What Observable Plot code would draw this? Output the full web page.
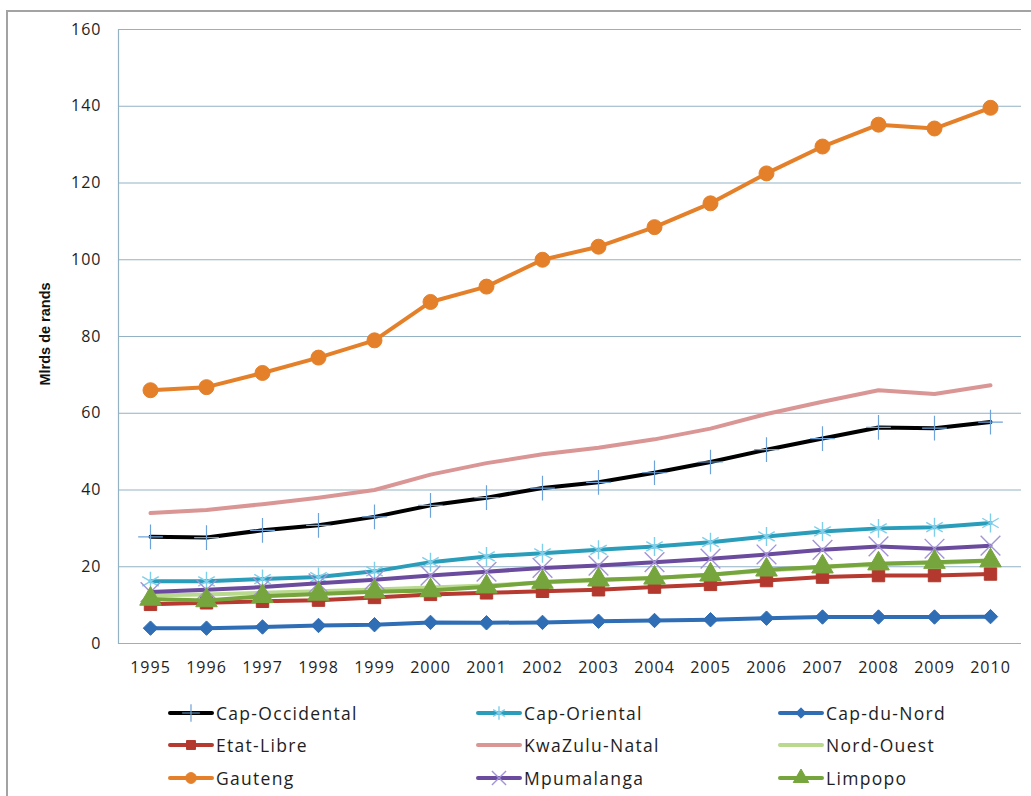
<!DOCTYPE html>
<html>
<head>
<meta charset="utf-8">
<script src="https://cdn.jsdelivr.net/npm/d3@7"></script>
<script src="https://cdn.jsdelivr.net/npm/@observablehq/plot@0.6"></script>
<style>
  html, body { margin: 0; padding: 0; background: #fff; }
  #wrap { position: relative; width: 1031px; height: 796px; overflow: hidden; }
  #frame { position: absolute; left: 6px; top: 10px; width: 1040px; height: 800px;
           border-left: 2px solid #a3a3a3; border-top: 2px solid #a3a3a3; box-sizing: border-box; }
  #chart { position: absolute; left: 0; top: 0; }
  #ytitle { position: absolute; left: 45px; top: 334px; transform: translate(-50%, -50%) rotate(-90deg);
            font-family: "Liberation Sans Narrow", "Liberation Sans", sans-serif; font-weight: bold;
            font-size: 14.5px; color: #111; white-space: nowrap; }
  .leg { position: absolute; display: flex; align-items: center; font-family: "Open Sans", sans-serif;
         font-size: 17.5px; letter-spacing: 1.3px; color: #1e1e1e; white-space: nowrap; }
  .leg svg { margin-right: 2px; }
</style>
</head>
<body>
<div id="wrap">
  <div id="frame"></div>
  <div id="chart"></div>
  <div id="ytitle">Mlrds de rands</div>
  <div id="legend"></div>
</div>
<script>
const years = ["1995","1996","1997","1998","1999","2000","2001","2002","2003","2004","2005","2006","2007","2008","2009","2010"];
const seriesNames = ["Cap-Occidental","Cap-Oriental","Cap-du-Nord","Etat-Libre","KwaZulu-Natal","Nord-Ouest","Gauteng","Mpumalanga","Limpopo"];
const capOccidental = [27.8, 27.6, 29.5, 30.8, 33.0, 36.0, 38.0, 40.5, 42.0, 44.5, 47.3, 50.5, 53.4, 56.3, 56.1, 57.7];
const capOriental   = [16.2, 16.2, 16.8, 17.3, 18.8, 21.2, 22.7, 23.5, 24.4, 25.3, 26.4, 27.9, 29.2, 30.0, 30.3, 31.4];
const capDuNord     = [4.0, 4.0, 4.3, 4.7, 4.9, 5.5, 5.4, 5.5, 5.8, 6.0, 6.2, 6.6, 6.9, 6.9, 6.9, 7.0];
const etatLibre     = [10.2, 10.6, 11.0, 11.3, 12.0, 12.8, 13.2, 13.6, 14.0, 14.7, 15.4, 16.4, 17.3, 17.7, 17.7, 18.1];
const kwaZuluNatal  = [34.0, 34.8, 36.3, 38.0, 40.0, 44.0, 47.0, 49.3, 51.0, 53.2, 56.0, 59.8, 63.0, 66.0, 65.0, 67.3];
const nordOuest     = [12.6, 12.8, 13.2, 13.6, 14.1, 14.6, 15.1, 15.9, 16.5, 17.1, 17.9, 19.0, 19.9, 20.7, 21.0, 21.5];
const gauteng       = [66.0, 66.8, 70.5, 74.5, 79.0, 89.0, 93.0, 100.0, 103.4, 108.5, 114.7, 122.5, 129.5, 135.2, 134.2, 139.6];
const mpumalanga    = [13.4, 14.0, 14.7, 15.7, 16.6, 17.7, 18.7, 19.7, 20.3, 21.2, 22.1, 23.2, 24.4, 25.3, 24.7, 25.5];
const limpopo       = [11.6, 11.2, 12.3, 12.9, 13.5, 13.8, 14.8, 16.0, 16.6, 17.1, 17.9, 19.2, 20.0, 20.8, 21.2, 21.6];
const yTicks = [0, 20, 40, 60, 80, 100, 120, 140, 160];

const seriesValues = [capOccidental, capOriental, capDuNord, etatLibre, kwaZuluNatal, nordOuest, gauteng, mpumalanga, limpopo];

// styles (kept separate from data)
const styles = {
  "Cap-Occidental": {line: "#000000", symbol: "plus", mark: "#6fa3d8", filled: false, r: 8, sw: 1.2},
  "Cap-Oriental":   {line: "#2a9dbb", symbol: "asterisk", mark: "#7fcfea", filled: false, r: 9, sw: 1.4},
  "Cap-du-Nord":    {line: "#2f6db5", symbol: "diamond2", mark: "#2f6db5", filled: true, r: 6.5, sw: 1},
  "Etat-Libre":     {line: "#b63a2f", symbol: "square", mark: "#b3382d", filled: true, r: 7, sw: 1},
  "KwaZulu-Natal":  {line: "#d99695", symbol: null},
  "Nord-Ouest":     {line: "#b8d98e", symbol: null},
  "Gauteng":        {line: "#e5802a", symbol: "circle", mark: "#e5802a", filled: true, r: 7.5, sw: 1},
  "Mpumalanga":     {line: "#6a4b9d", symbol: "times", mark: "#a294d6", filled: false, r: 9, sw: 1.4},
  "Limpopo":        {line: "#77a53d", symbol: "triangle", mark: "#77a53d", filled: true, r: 8, sw: 1}
};

const rows = seriesNames.flatMap((name, i) => years.map((yr, j) => ({series: name, year: yr, value: seriesValues[i][j]})));

const marks = [
  Plot.gridY(yTicks, {stroke: "#93b3c4", strokeOpacity: 1, strokeWidth: 1}),
  Plot.frame({anchor: "left", stroke: "#93b3c4", strokeWidth: 1.2}),
  Plot.axisY(yTicks, {tickSize: 0, tickPadding: 17, fontSize: 16, label: null}),
  Plot.axisX({tickSize: 0, tickPadding: 18, fontSize: 16, label: null})
];
for (const name of seriesNames) {
  const st = styles[name];
  const d = rows.filter(r => r.series === name);
  marks.push(Plot.line(d, {x: "year", y: "value", stroke: st.line, strokeWidth: 4, strokeLinejoin: "round", strokeLinecap: "round"}));
  if (st.symbol) {
    marks.push(Plot.dot(d, {x: "year", y: "value", symbol: () => st.symbol, r: st.r,
      fill: st.filled ? st.mark : "none", stroke: st.mark, strokeWidth: st.sw}));
  }
}

const chart = Plot.plot({
  width: 1031, height: 690,
  marginLeft: 118, marginRight: 10, marginTop: 29, marginBottom: 47,
  style: {fontFamily: "Open Sans, sans-serif", fontSize: "16px", color: "#1e1e1e", background: "transparent", letterSpacing: "1px"},
  x: {type: "point", domain: years, padding: 0.5},
  y: {domain: [0, 160]},
  symbol: {type: "identity"},
  marks
});
document.getElementById("chart").appendChild(chart);

// legend
const legend = document.getElementById("legend");
const colsX = [168, 476, 778];
const rowsY = [713, 745, 778];
const symMap = {plus: d3.symbolPlus, asterisk: d3.symbolAsterisk, diamond2: d3.symbolDiamond2, square: d3.symbolSquare,
                circle: d3.symbolCircle, times: d3.symbolTimes, triangle: d3.symbolTriangle};
seriesNames.forEach((name, i) => {
  const st = styles[name];
  const div = document.createElement("div");
  div.className = "leg";
  div.style.left = colsX[i % 3] + "px";
  div.style.top = (rowsY[Math.floor(i / 3)] - 13) + "px";
  div.style.height = "26px";
  let svg = `<svg width="46" height="26"><line x1="2" x2="44" y1="13" y2="13" stroke="${st.line}" stroke-width="4" stroke-linecap="round"/>`;
  if (st.symbol) {
    const rr = st.r * 0.72;
    const p = d3.symbol(symMap[st.symbol], Math.PI * rr * rr)();
    svg += `<path transform="translate(23,13)" d="${p}" fill="${st.filled ? st.mark : "none"}" stroke="${st.mark}" stroke-width="${st.sw}"/>`;
  }
  svg += `</svg>`;
  div.innerHTML = svg + `<span>${name}</span>`;
  legend.appendChild(div);
});
</script>
</body>
</html>
